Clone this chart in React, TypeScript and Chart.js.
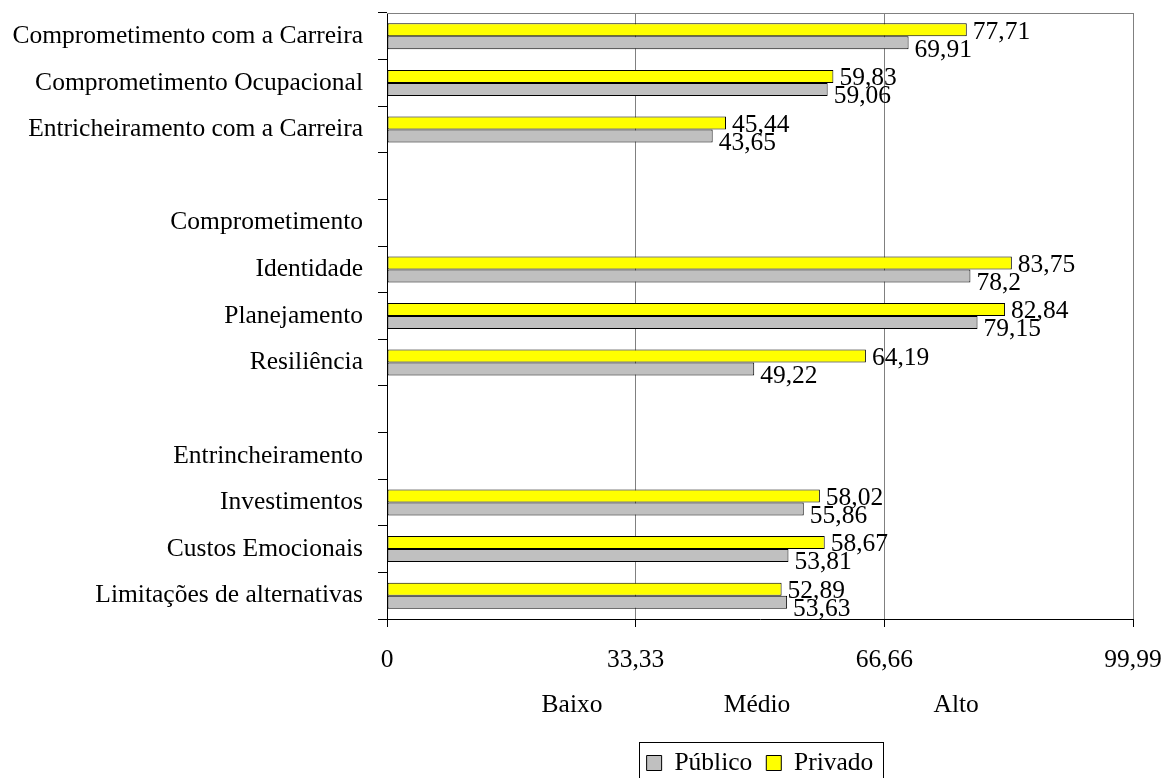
import React, { useEffect, useRef } from "react";
import { Chart, registerables } from "chart.js";

Chart.register(...registerables);

const categories = [
  "Comprometimento com a Carreira",
  "Comprometimento Ocupacional",
  "Entricheiramento com a Carreira",
  "",
  "Comprometimento",
  "Identidade",
  "Planejamento",
  "Resiliência",
  "",
  "Entrincheiramento",
  "Investimentos",
  "Custos Emocionais",
  "Limitações de alternativas",
];

const publico = [69.91, 59.06, 43.65, null, null, 78.2, 79.15, 49.22, null, null, 55.86, 53.81, 53.63];
const privado = [77.71, 59.83, 45.44, null, null, 83.75, 82.84, 64.19, null, null, 58.02, 58.67, 52.89];

const xTickValues = [0, 33.33, 66.66, 99.99];
const bandLabels = ["Baixo", "Médio", "Alto"];

const FONT = "'Liberation Serif', 'Times New Roman', serif";
const FS = 25.5;

const fmt = (v: number) => String(v).replace(".", ",");

const valueLabels = {
  id: "valueLabels",
  afterDatasetsDraw(chart: any) {
    const ctx = chart.ctx;
    ctx.save();
    ctx.font = `${FS}px ${FONT}`;
    ctx.fillStyle = "#000";
    ctx.textAlign = "left";
    ctx.textBaseline = "middle";
    chart.data.datasets.forEach((ds: any, di: number) => {
      const meta = chart.getDatasetMeta(di);
      const dy = di === 0 ? 2 : 7;
      meta.data.forEach((bar: any, i: number) => {
        const v = ds.data[i];
        if (v === null || v === undefined) return;
        ctx.fillText(fmt(v), bar.x + 6, bar.y + dy);
      });
    });
    ctx.restore();
  },
};

const extras = {
  id: "extras",
  beforeDatasetsDraw(chart: any) {
    const { ctx, chartArea } = chart;
    ctx.save();
    ctx.strokeStyle = "#808080";
    ctx.lineWidth = 1;
    ctx.beginPath();
    ctx.moveTo(chartArea.left, Math.round(chartArea.top) + 0.5);
    ctx.lineTo(chartArea.right, Math.round(chartArea.top) + 0.5);
    ctx.stroke();
    ctx.restore();
  },
  afterDraw(chart: any) {
    const { ctx } = chart;
    const xs = chart.scales.x;
    ctx.save();
    ctx.font = `${FS}px ${FONT}`;
    ctx.fillStyle = "#000";
    ctx.textAlign = "center";
    ctx.textBaseline = "middle";
    const fr = [0.248, 0.496, 0.763];
    bandLabels.forEach((t, i) => {
      ctx.fillText(t, xs.left + fr[i] * (xs.right - xs.left), xs.top + 86);
    });
    const hb = chart.legend && chart.legend.legendHitBoxes;
    if (hb && hb.length) {
      const first = hb[0];
      const last = hb[hb.length - 1];
      const l = Math.round(Math.min(first.left, last.left) - 8) + 0.5;
      const r = Math.round(Math.max(first.left + first.width, last.left + last.width) + 10) + 0.5;
      const t = Math.round(first.top - 8) + 0.5;
      ctx.strokeStyle = "#000";
      ctx.lineWidth = 1;
      ctx.strokeRect(l, t, r - l, 80);
    }
    ctx.restore();
  },
};

export default function App() {
  const ref = useRef<HTMLCanvasElement | null>(null);
  useEffect(() => {
    if (!ref.current) return;
    Chart.defaults.font.family = FONT;
    const chart = new Chart(ref.current, {
      type: "bar",
      data: {
        labels: categories,
        datasets: [
          {
            label: "Privado",
            data: privado,
            backgroundColor: "#FFFF00",
            borderColor: "#000",
            borderWidth: 1,
            borderSkipped: false,
            categoryPercentage: 0.558,
            barPercentage: 1,
          },
          {
            label: "Público",
            data: publico,
            backgroundColor: "#C0C0C0",
            borderColor: "#000",
            borderWidth: 1,
            borderSkipped: false,
            categoryPercentage: 0.558,
            barPercentage: 1,
          },
        ],
      },
      options: {
        indexAxis: "y",
        animation: false,
        responsive: false,
        maintainAspectRatio: false,
        layout: { padding: { top: 13, right: 39, left: 0, bottom: -7.75 } },
        plugins: {
          tooltip: { enabled: false },
          legend: {
            position: "bottom",
            fullSize: false,
            reverse: true,
            labels: {
              boxWidth: 15,
              boxHeight: 15,
              padding: 14,
              color: "#000",
              font: { size: FS, family: FONT },
            },
          },
        },
        scales: {
          x: {
            min: 0,
            max: 99.99,
            afterBuildTicks: (scale: any) => {
              scale.ticks = xTickValues.map((v) => ({ value: v }));
            },
            afterFit: (scale: any) => {
              scale.height = 117.25;
              scale.paddingLeft = 0;
              scale.paddingRight = 0;
            },
            grid: {
              color: "#808080",
              tickColor: "#000",
              tickLength: 8,
              drawTicks: true,
            },
            border: { color: "#000", width: 1 },
            ticks: {
              color: "#000",
              padding: 18,
              maxRotation: 0,
              autoSkip: false,
              font: { size: FS, family: FONT },
              callback: (v: any) => fmt(Number(v)),
            },
          },
          y: {
            afterFit: (scale: any) => {
              scale.width = 387;
              scale.paddingTop = 0;
              scale.paddingBottom = 0;
            },
            grid: {
              drawOnChartArea: false,
              offset: true,
              tickColor: "#000",
              tickLength: 9,
            },
            border: { color: "#000", width: 1 },
            ticks: {
              color: "#000",
              padding: 15,
              autoSkip: false,
              font: { size: FS, family: FONT },
            },
          },
        },
      },
      plugins: [valueLabels, extras],
    } as any);
    return () => chart.destroy();
  }, []);
  return (
    <div style={{ position: "fixed", left: 0, top: 0, width: 1172, height: 778, background: "#fff" }}>
      <canvas ref={ref} width={1172} height={778} />
    </div>
  );
}
